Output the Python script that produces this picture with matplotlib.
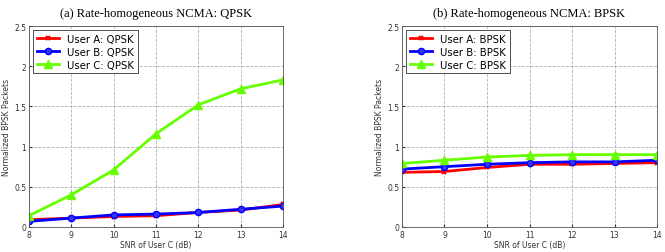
import numpy as np
import matplotlib
matplotlib.use("Agg")
import matplotlib.pyplot as plt

snr = [8, 9, 10, 11, 12, 13, 14]

# (a) QPSK
qpsk_a = [0.09, 0.11, 0.13, 0.14, 0.18, 0.21, 0.28]
qpsk_b = [0.07, 0.11, 0.15, 0.16, 0.18, 0.22, 0.26]
qpsk_c = [0.14, 0.40, 0.71, 1.16, 1.52, 1.72, 1.83]

# (b) BPSK
bpsk_a = [0.68, 0.69, 0.74, 0.78, 0.78, 0.79, 0.80]
bpsk_b = [0.72, 0.75, 0.78, 0.80, 0.81, 0.81, 0.83]
bpsk_c = [0.79, 0.83, 0.87, 0.89, 0.90, 0.90, 0.90]

titles = ["(a) Rate-homogeneous NCMA: QPSK", "(b) Rate-homogeneous NCMA: BPSK"]
mods = ["QPSK", "BPSK"]

fig = plt.figure(figsize=(6.65, 2.53), dpi=100)
ax1 = fig.add_axes([0.0436, 0.099, 0.382, 0.794])
ax2 = fig.add_axes([0.6045, 0.099, 0.3835, 0.794])

for ax, t, m, (a, b, c) in zip([ax1, ax2], titles, mods,
                                [(qpsk_a, qpsk_b, qpsk_c), (bpsk_a, bpsk_b, bpsk_c)]):
    ax.plot(snr, a, color='#ff0000', marker='x', ms=3, mew=1.5, lw=2, label="User A: " + m)
    ax.plot(snr, b, color='#0000ff', marker='o', ms=4.5, mfc='#3333ff', lw=2, label="User B: " + m)
    ax.plot(snr, c, color='#66ff00', marker='^', ms=6, lw=2, label="User C: " + m)
    ax.set_xlim(8, 14)
    ax.set_ylim(0, 2.5)
    ax.set_xticks(snr)
    ax.set_yticks([0, 0.5, 1, 1.5, 2, 2.5])
    ax.set_yticklabels(['0', '0.5', '1', '1.5', '2', '2.5'])
    ax.tick_params(labelsize=5.5, length=2, direction='in', colors='#333333', pad=2)
    ax.grid(True, linestyle='--', color='#b0b0b0', lw=0.6)
    for s in ax.spines.values():
        s.set_color('#555555')
        s.set_linewidth(0.6)
    ax.set_xlabel("SNR of User C (dB)", fontsize=5.5, color='#333333', labelpad=1)
    ax.set_ylabel("Normalized BPSK Packets", fontsize=5.5, color='#333333', labelpad=2)
    ax.set_title(t, fontsize=9, family='Liberation Serif', pad=7)
    leg = ax.legend(loc='upper left', fontsize=7.3, handlelength=2.2, borderpad=0.35,
                    labelspacing=0.3, fancybox=False, framealpha=1, edgecolor='#333333',
                    borderaxespad=0.4)
    leg.get_frame().set_linewidth(0.6)

fig.savefig("out.png", dpi=100)
